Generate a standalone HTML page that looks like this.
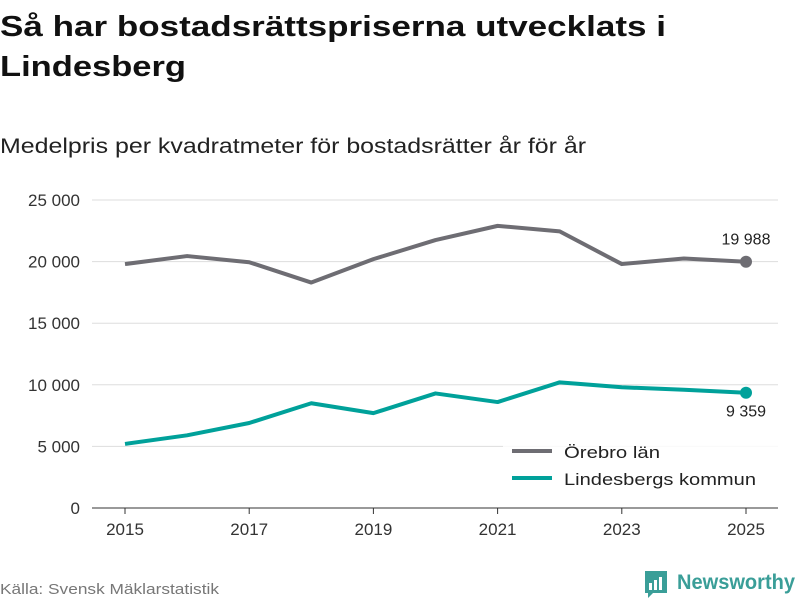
<!DOCTYPE html>
<html><head><meta charset="utf-8"><style>
html,body{margin:0;padding:0;background:#fff;}
svg{display:block;font-family:"Liberation Sans",sans-serif;}
</style></head><body>
<svg id="chart" width="800" height="600" viewBox="0 0 800 600" xmlns="http://www.w3.org/2000/svg">
<text x="0" y="36" font-size="29" font-weight="bold" fill="#111" textLength="666" lengthAdjust="spacingAndGlyphs">Så har bostadsrättspriserna utvecklats i</text>
<text x="0" y="76" font-size="29" font-weight="bold" fill="#111" textLength="186" lengthAdjust="spacingAndGlyphs">Lindesberg</text>
<text x="0" y="153" font-size="21" fill="#222" textLength="586" lengthAdjust="spacingAndGlyphs">Medelpris per kvadratmeter för bostadsrätter år för år</text>
<g id="grid"></g><g id="xaxis"></g><g id="lines"></g>
<g>
<rect x="503" y="436" width="275" height="60" fill="#fff" opacity="0.85"/>
<line x1="512" y1="451" x2="552" y2="451" stroke="#6e6d73" stroke-width="4"/>
<text x="564" y="458" font-size="17" fill="#222" textLength="96" lengthAdjust="spacingAndGlyphs">Örebro län</text>
<line x1="512" y1="478" x2="552" y2="478" stroke="#00a19a" stroke-width="4"/>
<text x="564" y="485" font-size="17" fill="#222" textLength="192" lengthAdjust="spacingAndGlyphs">Lindesbergs kommun</text>
</g>
<text x="0" y="594" font-size="15" fill="#777" textLength="219" lengthAdjust="spacingAndGlyphs">Källa: Svensk Mäklarstatistik</text>
<g>
<path d="M645 571 h22 v22 h-14 l-5 5 v-5 h-3 z" fill="#3a9e98"/>
<rect x="649" y="583" width="3" height="7" fill="#fff"/><rect x="654" y="580" width="3" height="10" fill="#fff"/><rect x="659" y="577" width="3" height="13" fill="#fff"/>
<text x="677" y="589" font-size="21" font-weight="bold" fill="#3a9e98" textLength="118" lengthAdjust="spacingAndGlyphs">Newsworthy</text>
</g>
</svg>
<script>
const years=[2015,2016,2017,2018,2019,2020,2021,2022,2023,2024,2025];
const orebro=[19800,20450,19950,18300,20200,21750,22900,22450,19800,20250,19988];
const lindesberg=[5200,5900,6900,8500,7700,9300,8600,10200,9800,9600,9359];
const yTicks=[0,5000,10000,15000,20000,25000];
const xTicks=[2015,2017,2019,2021,2023,2025];
const NS="http://www.w3.org/2000/svg";
const x=v=>125+(v-2015)*62.1;
const y=v=>508-v/25000*308;
const fmt=v=>v===0?"0":String(v).replace(/\B(?=(\d{3})+(?!\d))/g," ");
function mk(tag,attrs,parent){const e=document.createElementNS(NS,tag);for(const k in attrs)e.setAttribute(k,attrs[k]);parent.appendChild(e);return e;}
const grid=document.getElementById('grid');
yTicks.forEach(t=>{
 const l=mk('line',{x1:92,x2:778,y1:y(t),y2:y(t),stroke:t===0?'#333':'#ddd','stroke-width':1},grid);
 
 
 const tx=mk('text',{x:80,y:y(t)+6,'text-anchor':'end','font-size':17,fill:'#333'},grid);
 tx.textContent=fmt(t);
 
 
});
const xa=document.getElementById('xaxis');
xTicks.forEach(t=>{
 const l=mk('line',{x1:x(t),x2:x(t),y1:508,y2:514,stroke:'#333'},xa);
 
 
 const tx=mk('text',{x:x(t),y:535,'text-anchor':'middle','font-size':17,fill:'#333'},xa);
 tx.textContent=t;
 
 
});
const lg=document.getElementById('lines');
function series(vals,color,name,labelDy){
 const p=mk('polyline',{points:vals.map((v,i)=>x(years[i])+','+y(v)).join(' '),fill:'none',stroke:color,'stroke-width':4,'stroke-linejoin':'round'},lg);
 
 
 const n=vals.length-1;
 const c=mk('circle',{cx:x(years[n]),cy:y(vals[n]),r:6,fill:color},lg);
 
 
 const t=mk('text',{x:x(years[n]),y:y(vals[n])+labelDy,'text-anchor':'middle','font-size':16,fill:'#222'},lg);
 t.textContent=fmt(vals[n]);
 
 
}
series(orebro,'#6e6d73','orebro',-17);
series(lindesberg,'#00a19a','lindesberg',24);
</script>
</body></html>
